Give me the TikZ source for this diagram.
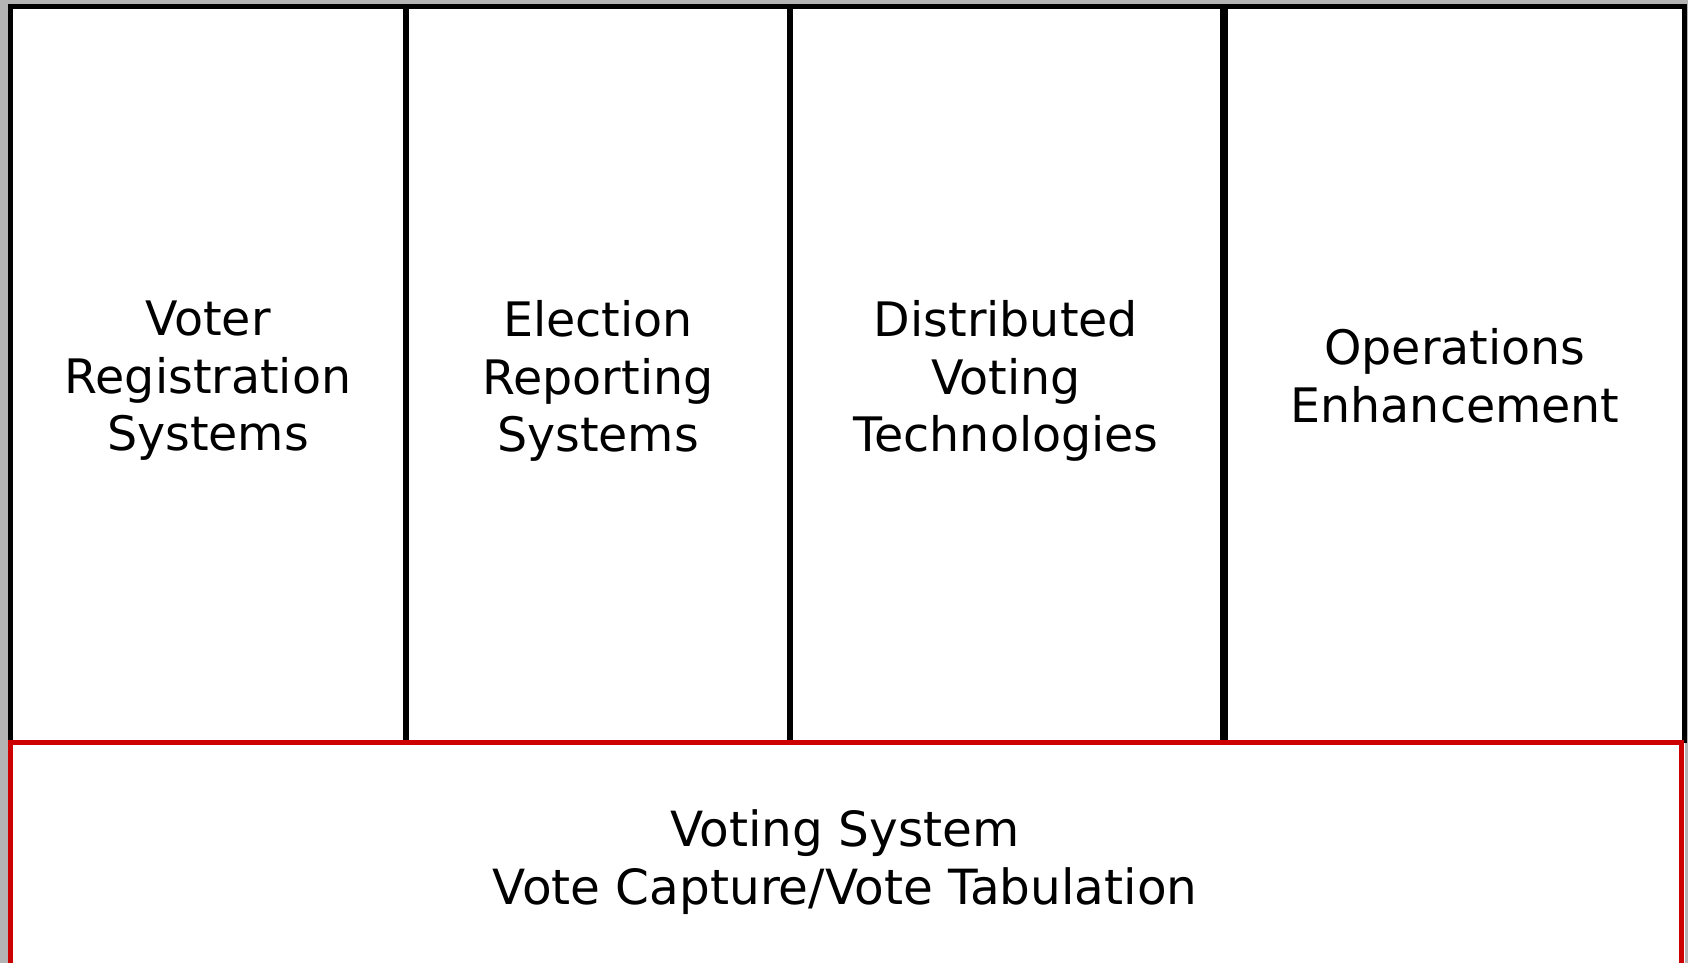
\documentclass[tikz,border=0pt]{standalone}
\usepackage{fontspec}
\setmainfont{DejaVu Sans}
\definecolor{bggrey}{RGB}{180,180,180}
\definecolor{vsred}{RGB}{204,0,0}
\tikzset{
  celltext/.style={align=center, font=\fontsize{47.5}{57.5}\selectfont, inner sep=0pt},
  basetext/.style={align=center, font=\fontsize{48.5}{58}\selectfont, inner sep=0pt},
  frame/.style={draw=black, line width=5pt},
  divider/.style={draw=black, line width=6pt},
  redframe/.style={draw=vsred, line width=5pt}
}
\begin{document}
\begin{tikzpicture}[x=1pt,y=-1pt]
\useasboundingbox (0,0) rectangle (1688,963);
\fill[bggrey] (0,0) rectangle (1688,963);
\fill[white] (10.5,6.5) rectangle (1684.5,963);
\draw[frame] (10.5,742.5) -- (10.5,6.5) -- (1684.5,6.5) -- (1684.5,742.5);
\coordinate (d1t) at (406,6.5);  \coordinate (d1b) at (406,742.5);
\coordinate (d2t) at (790,6.5);  \coordinate (d2b) at (790,742.5);
\coordinate (d3t) at (1224,6.5); \coordinate (d3b) at (1224,742.5);
\draw[divider] (d1t) -- (d1b);
\draw[divider] (d2t) -- (d2b);
\draw[divider, line width=8pt] (d3t) -- (d3b);
\draw[redframe] (10.5,975) -- (10.5,742.5) -- (1681.5,742.5) -- (1681.5,975);
\node[celltext] (vrs) at (208,381) {Voter\\Registration\\Systems};
\node[celltext] (ers) at (598,381) {Election\\Reporting\\Systems};
\node[celltext] (dvt) at (1006,381) {Distributed\\Voting\\Technologies};
\node[celltext] (ope) at (1455,376) {Operations\\Enhancement};
\node[basetext] (vs) at (845,862) {Voting System\\Vote Capture/Vote Tabulation};
\end{tikzpicture}
\end{document}
